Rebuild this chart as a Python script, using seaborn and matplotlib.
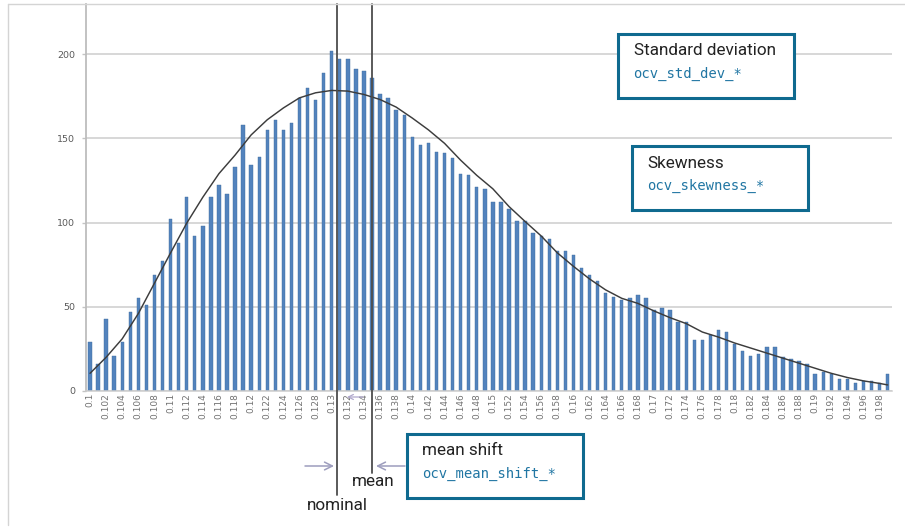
import numpy as np
import pandas as pd
import matplotlib
matplotlib.use("Agg")
import matplotlib.pyplot as plt
from matplotlib.patches import Rectangle
import seaborn as sns

# OCV bins (V) and the number of cells counted in each bin
bin_values = [round(0.100 + 0.001 * k, 3) for k in range(100)]
counts = [
    29, 16, 43, 21, 29, 47, 55, 51, 69, 77,
    102, 88, 115, 92, 98, 115, 122, 117, 133, 158,
    134, 139, 155, 161, 155, 159, 174, 180, 173, 189,
    202, 197, 197, 191, 190, 186, 176, 174, 167, 164,
    151, 146, 147, 142, 141, 138, 129, 128, 121, 120,
    112, 112, 108, 101, 101, 94, 92, 90, 83, 83,
    81, 73, 69, 65, 58, 56, 54, 55, 57, 55,
    48, 49, 48, 41, 41, 30, 30, 33, 36, 35,
    28, 24, 21, 22, 26, 26, 20, 19, 18, 16,
    10, 11, 10, 7, 7, 5, 6, 6, 5, 10,
]

# fitted distribution curve, sampled along the OCV axis
curve_x = [0.100, 0.102, 0.104, 0.106, 0.108, 0.110, 0.112, 0.114, 0.116, 0.118,
           0.120, 0.122, 0.124, 0.126, 0.128, 0.130, 0.132, 0.134, 0.136, 0.138,
           0.140, 0.142, 0.144, 0.146, 0.148, 0.150, 0.152, 0.154, 0.156, 0.158,
           0.160, 0.162, 0.164, 0.166, 0.168, 0.170, 0.172, 0.174, 0.176, 0.178,
           0.180, 0.182, 0.184, 0.186, 0.188, 0.190, 0.192, 0.194, 0.196, 0.198,
           0.199]
curve_y = [10.5, 20, 31, 46, 64, 82, 99.6, 115, 129, 140,
           152, 161, 168, 174, 177, 178.4, 178, 176, 173, 168.5,
           162, 155, 147, 137, 128, 120, 109.5, 100.6, 92, 82,
           74, 66.5, 60, 55, 52, 47.5, 43.5, 40, 35, 32,
           28.5, 25.5, 22.5, 19.5, 16.5, 13.5, 10.5, 8, 6, 4.5,
           3.6]

tick_labels = [f"{v:g}" for v in bin_values[::2]]
y_ticks = [0, 50, 100, 150, 200]

nominal_ocv = 0.1307
mean_ocv = 0.1350

sns.set_style("white")
plt.rcParams["font.family"] = ["Roboto", "DejaVu Sans"]

W, H = 905, 527
fig = plt.figure(figsize=(W / 100, H / 100), dpi=100)
ax = fig.add_axes([85.5 / W, 1 - 391 / H, (891.7 - 85.5) / W, (391 - 4) / H])

df = pd.DataFrame({"ocv": [f"{v:.3f}" for v in bin_values], "count": counts})
sns.barplot(data=df, x="ocv", y="count", color="#5383bd", saturation=1,
            width=0.42, edgecolor="#3f6d9e", linewidth=0.3, ax=ax, zorder=2)

def to_pos(v):
    return (v - bin_values[0]) / 0.001

curve_pos = [to_pos(v) for v in curve_x]
sns.lineplot(x=curve_pos, y=curve_y, color="#3c3c3c", linewidth=1.05,
             sort=False, ax=ax, zorder=3)

ax.set_xlim(-0.56, 99.5)
ax.set_ylim(0, 229.7)
ax.set_xticks(range(0, 100, 2))
ax.set_xticklabels(tick_labels, rotation=90, fontsize=6.5, color="#727272",
                   family="DejaVu Sans")
ax.set_yticks(y_ticks)
ax.set_yticklabels([str(t) for t in y_ticks], fontsize=6.8, color="#5a5a5a",
                   family="DejaVu Sans")
ax.tick_params(axis="x", length=0, pad=1.5)
ax.tick_params(axis="y", length=3, width=1, color="#c4c4c4", pad=4.5, left=True)
ax.set_xlabel("")
ax.set_ylabel("")
ax.grid(axis="y", color="#cdcdcd", linewidth=1.1, zorder=0)
ax.set_axisbelow(True)
for side in ("top", "right"):
    ax.spines[side].set_visible(False)
ax.spines["left"].set_color("#bdbdbd")
ax.spines["left"].set_linewidth(1.3)
ax.spines["bottom"].set_color("#cdcdcd")
ax.spines["bottom"].set_linewidth(1.1)

# nominal and mean markers running below the axis
px_per_unit = (391 - 54.3) / 200
nominal_bottom = -(495 - 391) / px_per_unit
mean_bottom = -(473 - 391) / px_per_unit
ax.plot([to_pos(nominal_ocv)] * 2, [229.7, nominal_bottom], color="#4d4d4d",
        linewidth=1.3, clip_on=False, zorder=5)
ax.plot([to_pos(mean_ocv)] * 2, [229.7, mean_bottom], color="#4d4d4d",
        linewidth=1.3, clip_on=False, zorder=5)

# annotation layer in pixel coordinates
ov = fig.add_axes([0, 0, 1, 1], zorder=10)
ov.set_xlim(0, W)
ov.set_ylim(H, 0)
ov.axis("off")
ov.patch.set_alpha(0)

ov.plot([8, 8], [4, 525], color="#d4d4d4", linewidth=1)
ov.plot([8, W], [4, 4], color="#d4d4d4", linewidth=1)

box_edge = "#0f6a8f"
code_color = "#2176a3"
boxes = [
    (618, 33.5, 176, 64, "Standard deviation", "ocv_std_dev_*"),
    (631.5, 146, 176, 64, "Skewness", "ocv_skewness_*"),
    (406.5, 433.5, 176, 64.5, "mean shift", "ocv_mean_shift_*"),
]
for x0, y0, w, h, title, code in boxes:
    ov.add_patch(Rectangle((x0, y0), w, h, facecolor="white", edgecolor=box_edge,
                           linewidth=2.2))
    ov.text(x0 + 15.5, y0 + 17, title, fontsize=12.3, color="#222222",
            va="center", ha="left")
    ov.text(x0 + 15.5, y0 + 40, code, fontsize=10, color=code_color,
            family="DejaVu Sans Mono", va="center", ha="left")

arrow_style = dict(arrowstyle="->", color="#9d9dbd", linewidth=1.1,
                   mutation_scale=14, shrinkA=0, shrinkB=0)
ov.annotate("", xy=(334, 466), xytext=(305, 466), arrowprops=arrow_style)
ov.annotate("", xy=(376, 466), xytext=(405, 466), arrowprops=arrow_style)
ov.annotate("", xy=(347, 397), xytext=(363, 397),
            arrowprops=dict(arrowstyle="->", color="#b0a8cc", linewidth=0.9,
                            mutation_scale=9, shrinkA=0, shrinkB=0))

ov.text(373, 482, "mean", fontsize=12.3, color="#222222", ha="center", va="center")
ov.text(337, 505, "nominal", fontsize=12.3, color="#222222", ha="center", va="center")

fig.savefig("out.png", dpi=100)
